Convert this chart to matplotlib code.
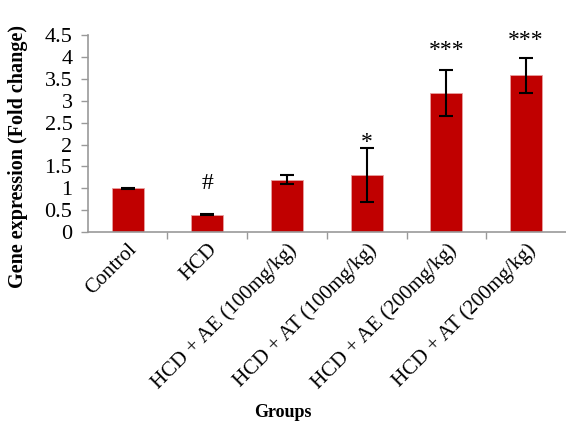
import numpy as np
import matplotlib.pyplot as plt
from matplotlib.ticker import FixedLocator

groups = ["Control", "HCD", "HCD + AE (100mg/kg)", "HCD + AT (100mg/kg)",
          "HCD + AE (200mg/kg)", "HCD + AT (200mg/kg)"]
fold_change = [1.0, 0.4, 1.2, 1.3, 3.18, 3.58]
errors = [0.01, 0.02, 0.1, 0.61, 0.52, 0.4]
marks = ["", "#", "", "*", "***", "***"]
mark_y = [0, 1.1, 0, 2.05, 4.15, 4.38]

plt.rcParams["font.family"] = ["Liberation Serif", "DejaVu Serif"]

fig = plt.figure(figsize=(5.66, 4.23), dpi=100)
ax = fig.add_axes([0.155, 0.4515, 0.845, 0.4655])

x = np.arange(len(groups))
ax.bar(x, fold_change, width=0.4, color="#C00000", edgecolor="#E8A0A0",
       linewidth=0.6, zorder=2)
ax.errorbar(x, fold_change, yerr=errors, fmt="none", ecolor="black",
            elinewidth=1.5, capsize=5, capthick=1.5, zorder=3)

for xi, m, my in zip(x, marks, mark_y):
    if m:
        ax.text(xi, my, m, ha="center", va="center", fontsize=17)

ax.set_xlim(-0.5, len(groups) - 0.5)
ax.set_ylim(0, 4.5)
ax.set_yticks(np.arange(0, 4.51, 0.5))
ax.set_yticklabels(["0", "0.5", "1", "1.5", "2", "2.5", "3", "3.5", "4", "4.5"])

ax.set_xticks(x)
ax.set_xticklabels(groups, rotation=45, ha="right", rotation_mode="anchor",
                   fontsize=15)
ax.tick_params(axis="x", length=0, pad=6)
ax.xaxis.set_minor_locator(FixedLocator(np.arange(0.5, len(groups) - 1, 1)))
ax.tick_params(axis="x", which="minor", length=5, color="#999999", width=1)
ax.tick_params(axis="y", labelsize=16, length=5, color="#999999", width=1, pad=6)

for s in ["top", "right"]:
    ax.spines[s].set_visible(False)
for s in ["left", "bottom"]:
    ax.spines[s].set_color("#999999")
    ax.spines[s].set_linewidth(1.2)

fig.text(0.032, 0.629, "Gene expression (Fold change)", rotation=90,
         ha="center", va="center", fontsize=14.5, fontweight="bold")
fig.text(0.5, 0.025, "Groups", ha="center", va="center", fontsize=13,
         fontweight="bold")

fig.savefig("out.png", dpi=100)
